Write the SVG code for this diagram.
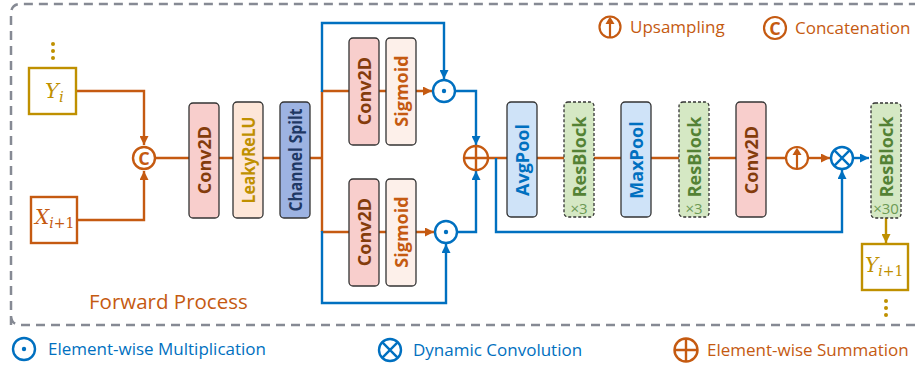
<svg xmlns="http://www.w3.org/2000/svg" width="915" height="369" viewBox="0 0 915 369">
<defs>
<style>
.frame{fill:none;stroke:#868a94;stroke-width:2.5;stroke-dasharray:9 6}
.o{fill:none;stroke:#C55A11;stroke-width:2.4}
.b{fill:none;stroke:#0070C0;stroke-width:2.4}
.g{fill:none;stroke:#BF9000;stroke-width:2.4}
.blk{stroke:#333;stroke-width:1.3}
.res{fill:#d5e8c4;stroke:#333;stroke-width:1.3;stroke-dasharray:3 2}
.bt{font-family:"Open Sans","Noto Sans",sans-serif;font-weight:bold;font-size:18px;text-anchor:middle;dominant-baseline:central}
.lg{font-family:"Open Sans","Noto Sans",sans-serif;font-size:17px}
.x3{font-family:"Open Sans","Noto Sans",sans-serif;font-size:15px;fill:#6d9a55;text-anchor:middle}
.math{font-family:"DejaVu Serif","Liberation Serif",serif;font-style:italic}
.dot{fill:#BF9000}
</style>
<marker id="ao" viewBox="0 0 10 10" refX="10" refY="5" markerWidth="9" markerHeight="9" markerUnits="userSpaceOnUse" orient="auto"><path d="M0,0L10,5L0,10z" fill="#C55A11"/></marker>
<marker id="ab" viewBox="0 0 10 10" refX="10" refY="5" markerWidth="9" markerHeight="9" markerUnits="userSpaceOnUse" orient="auto"><path d="M0,0L10,5L0,10z" fill="#0070C0"/></marker>
<marker id="ag" viewBox="0 0 10 10" refX="10" refY="5" markerWidth="9" markerHeight="9" markerUnits="userSpaceOnUse" orient="auto"><path d="M0,0L10,5L0,10z" fill="#BF9000"/></marker>
</defs>
<rect width="915" height="369" fill="#fff"/>
<path class="frame" d="M11,325 V14 Q11,4 21,4 H930 M930,325 H21 Q11,325 11,315"/>

<g id="connectors">
<path class="o" d="M76,91 H144 V145" marker-end="url(#ao)"/>
<path class="o" d="M77,220 H144 V171" marker-end="url(#ao)"/>
<path class="o" d="M156,158 H322"/>
<path class="o" d="M322,91 V232"/>
<path class="o" d="M322,91 H432" marker-end="url(#ao)"/>
<path class="o" d="M322,232 H434" marker-end="url(#ao)"/>
<path class="o" d="M488,158 H786"/>
<path class="o" d="M808,158 H830" marker-end="url(#ao)"/>
<path class="b" d="M322,92 V23 H444 V79" marker-end="url(#ab)"/>
<path class="b" d="M322,231 V303 H446 V244" marker-end="url(#ab)"/>
<path class="b" d="M455,91 H476 V145" marker-end="url(#ab)"/>
<path class="b" d="M457,232 H476 V171" marker-end="url(#ab)"/>
<path class="b" d="M496,158 V232 H842 V170" marker-end="url(#ab)"/>
<path class="b" d="M853,158 H869" marker-end="url(#ab)"/>
<path class="g" d="M886,218 V243" marker-end="url(#ag)"/>
</g>

<g id="Yi">
<circle class="dot" cx="53" cy="44" r="2"/><circle class="dot" cx="53" cy="51" r="2"/><circle class="dot" cx="53" cy="58" r="2"/>
<rect x="29" y="68" width="47" height="46" fill="#fff" stroke="#BF9000" stroke-width="2.4"/>
<text class="math" x="45" y="98" font-size="21" fill="#BF9000">Y<tspan font-size="15" dy="4">i</tspan></text>
</g>
<g id="Xi1">
<rect x="31" y="197" width="46" height="46" fill="#fff" stroke="#C55A11" stroke-width="2.4"/>
<text class="math" x="35" y="224" font-size="20" fill="#C55A11">X<tspan font-size="14" dy="4">i</tspan><tspan font-size="14" font-style="normal">+1</tspan></text>
</g>
<g id="concat">
<circle cx="144" cy="158" r="11" fill="#fff" stroke="#C55A11" stroke-width="2.4"/>
<text x="144" y="158" class="bt" fill="#C55A11" font-size="15">C</text>
</g>

<g id="conv1"><rect class="blk" x="189" y="103" width="30" height="115" rx="4" fill="#f8cecc"/><text class="bt" transform="translate(204,160) rotate(-90)" fill="#843c0c">Conv2D</text></g>
<g id="lrelu"><rect class="blk" x="233" y="102" width="30" height="116" rx="4" fill="#fde6d8"/><text class="bt" transform="translate(248,160) rotate(-90)" fill="#BF9000" textLength="87" lengthAdjust="spacingAndGlyphs">LeakyReLU</text></g>
<g id="split"><rect class="blk" x="280" y="102" width="30" height="116" rx="4" fill="#9db3e2"/><text class="bt" transform="translate(295,160) rotate(-90)" fill="#1f3864" font-size="16" textLength="103" lengthAdjust="spacingAndGlyphs">Channel Spilt</text></g>

<g id="conv_up"><rect class="blk" x="349" y="38" width="30" height="107" rx="4" fill="#f8cecc"/><text class="bt" transform="translate(364,91) rotate(-90)" fill="#843c0c">Conv2D</text></g>
<g id="sig_up"><rect class="blk" x="386" y="38" width="30" height="107" rx="4" fill="#fdf0ea"/><text class="bt" transform="translate(401,91) rotate(-90)" fill="#C55A11">Sigmoid</text></g>
<g id="conv_dn"><rect class="blk" x="349" y="179" width="30" height="107" rx="4" fill="#f8cecc"/><text class="bt" transform="translate(364,232) rotate(-90)" fill="#843c0c">Conv2D</text></g>
<g id="sig_dn"><rect class="blk" x="386" y="179" width="30" height="107" rx="4" fill="#fdf0ea"/><text class="bt" transform="translate(401,232) rotate(-90)" fill="#C55A11">Sigmoid</text></g>

<g id="mul_up"><circle cx="444" cy="91" r="11" fill="#fff" stroke="#0070C0" stroke-width="2.4"/><circle cx="444" cy="91" r="2.2" fill="#0070C0"/></g>
<g id="mul_dn"><circle cx="446" cy="232" r="11" fill="#fff" stroke="#0070C0" stroke-width="2.4"/><circle cx="446" cy="232" r="2.2" fill="#0070C0"/></g>
<g id="sum"><circle cx="476" cy="158" r="12" fill="#fff" stroke="#C55A11" stroke-width="2.4"/><path d="M464,158H488M476,146V170" stroke="#C55A11" stroke-width="2.4"/></g>

<g id="avgpool"><rect class="blk" x="507" y="102" width="30" height="115" rx="4" fill="#cfe3f8"/><text class="bt" transform="translate(522,160) rotate(-90)" fill="#0070C0">AvgPool</text></g>
<g id="res1"><rect class="res" x="564" y="102" width="30" height="115" rx="4"/><text class="bt" transform="translate(579,157) rotate(-90)" fill="#548235">ResBlock</text><text class="x3" x="579" y="214">×3</text></g>
<g id="maxpool"><rect class="blk" x="621" y="102" width="30" height="115" rx="4" fill="#cfe3f8"/><text class="bt" transform="translate(636,160) rotate(-90)" fill="#0070C0">MaxPool</text></g>
<g id="res2"><rect class="res" x="679" y="102" width="30" height="115" rx="4"/><text class="bt" transform="translate(694,157) rotate(-90)" fill="#548235">ResBlock</text><text class="x3" x="694" y="214">×3</text></g>
<g id="conv3"><rect class="blk" x="736" y="102" width="30" height="115" rx="4" fill="#f8cecc"/><text class="bt" transform="translate(751,160) rotate(-90)" fill="#843c0c">Conv2D</text></g>

<g id="upsample"><circle cx="797" cy="158" r="11" fill="#fff" stroke="#C55A11" stroke-width="2.2"/><path d="M797,169V153" stroke="#C55A11" stroke-width="2.2"/><path d="M792.5,155L797,147.5L801.5,155z" fill="#C55A11"/></g>
<g id="dynconv"><circle cx="842" cy="158" r="11" fill="#fff" stroke="#0070C0" stroke-width="2.4"/><path d="M834.2,150.2L849.8,165.8M849.8,150.2L834.2,165.8" stroke="#0070C0" stroke-width="2.4"/></g>

<g id="res30"><rect class="res" x="871" y="103" width="30" height="115" rx="4"/><text class="bt" transform="translate(886,157) rotate(-90)" fill="#548235">ResBlock</text><text class="x3" x="886" y="214">×30</text></g>
<g id="Yi1">
<rect x="862" y="244" width="46" height="46" fill="#fff" stroke="#BF9000" stroke-width="2.4"/>
<text class="math" x="865" y="272" font-size="20" fill="#BF9000">Y<tspan font-size="14" dy="4">i</tspan><tspan font-size="14" font-style="normal">+1</tspan></text>
<circle class="dot" cx="886" cy="301" r="2"/><circle class="dot" cx="886" cy="308" r="2"/><circle class="dot" cx="886" cy="315" r="2"/>
</g>

<text x="89" y="309" font-family="'Open Sans','Noto Sans',sans-serif" font-size="20.5" fill="#C55A11">Forward Process</text>

<g id="legend">
<circle cx="610" cy="27" r="10.5" fill="none" stroke="#C55A11" stroke-width="2.2"/><path d="M610,37.5V22" stroke="#C55A11" stroke-width="2.2"/><path d="M605.5,24L610,16.5L614.5,24z" fill="#C55A11"/>
<text class="lg" x="630" y="33" fill="#C55A11">Upsampling</text>
<circle cx="775" cy="28" r="11" fill="none" stroke="#C55A11" stroke-width="2.2"/><text x="775" y="28" class="bt" fill="#C55A11" font-size="15">C</text>
<text class="lg" x="795" y="34" fill="#C55A11">Concatenation</text>
<circle cx="24" cy="349" r="11" fill="none" stroke="#0070C0" stroke-width="2.4"/><circle cx="24" cy="349" r="2.2" fill="#0070C0"/>
<text class="lg" x="48" y="355" fill="#0070C0">Element-wise Multiplication</text>
<circle cx="390" cy="350" r="11" fill="none" stroke="#0070C0" stroke-width="2.4"/><path d="M382.2,342.2L397.8,357.8M397.8,342.2L382.2,357.8" stroke="#0070C0" stroke-width="2.4"/>
<text class="lg" x="413" y="356" fill="#0070C0">Dynamic Convolution</text>
<circle cx="686" cy="350" r="11.5" fill="none" stroke="#C55A11" stroke-width="2.4"/><path d="M674.5,350H697.5M686,338.5V361.5" stroke="#C55A11" stroke-width="2.4"/>
<text class="lg" x="707" y="356" fill="#C55A11">Element-wise Summation</text>
</g>
</svg>
